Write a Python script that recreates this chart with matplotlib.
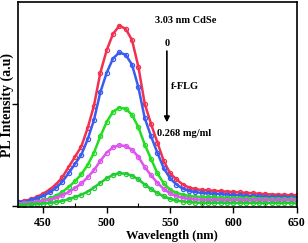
import matplotlib
matplotlib.use('Agg')
import matplotlib.pyplot as plt
from matplotlib.ticker import MultipleLocator

wavelength = list(range(430, 651, 5))

red = [0.02, 0.025, 0.032, 0.045, 0.06, 0.08, 0.105, 0.14, 0.19, 0.24,
       0.29, 0.38, 0.49, 0.65, 0.76, 0.84, 0.88, 0.865, 0.81, 0.68,
       0.50, 0.40, 0.31, 0.22, 0.16, 0.13, 0.105, 0.09, 0.082, 0.078,
       0.076, 0.074, 0.072, 0.07, 0.068, 0.066, 0.064, 0.062, 0.06, 0.058,
       0.056, 0.055, 0.054, 0.053, 0.052]
blue = [0.018, 0.022, 0.028, 0.038, 0.05, 0.066, 0.088, 0.118, 0.16, 0.205,
        0.25, 0.325, 0.42, 0.555, 0.65, 0.72, 0.75, 0.738, 0.69, 0.58,
        0.43, 0.34, 0.26, 0.185, 0.135, 0.105, 0.085, 0.074, 0.068, 0.064,
        0.062, 0.06, 0.058, 0.056, 0.054, 0.052, 0.05, 0.048, 0.047, 0.046,
        0.045, 0.044, 0.043, 0.042, 0.041]
green1 = [0.012, 0.014, 0.017, 0.022, 0.028, 0.037, 0.05, 0.068, 0.093, 0.12,
          0.155, 0.2, 0.26, 0.34, 0.41, 0.46, 0.48, 0.475, 0.445, 0.385,
          0.3, 0.23, 0.16, 0.11, 0.08, 0.064, 0.055, 0.049, 0.046, 0.044,
          0.043, 0.042, 0.041, 0.04, 0.039, 0.038, 0.037, 0.037, 0.036, 0.036,
          0.035, 0.035, 0.034, 0.034, 0.034]
magenta = [0.012, 0.014, 0.016, 0.02, 0.025, 0.031, 0.04, 0.052, 0.068, 0.087,
           0.11, 0.14, 0.175, 0.22, 0.26, 0.287, 0.296, 0.293, 0.275, 0.24,
           0.19, 0.15, 0.113, 0.083, 0.062, 0.048, 0.04, 0.035, 0.032, 0.031,
           0.03, 0.03, 0.029, 0.029, 0.029, 0.029, 0.028, 0.028, 0.028, 0.028,
           0.028, 0.028, 0.028, 0.028, 0.028]
green2 = [0.006, 0.007, 0.008, 0.01, 0.012, 0.015, 0.019, 0.025, 0.033, 0.043,
          0.055, 0.07, 0.09, 0.113, 0.135, 0.152, 0.16, 0.158, 0.148, 0.13,
          0.105, 0.083, 0.063, 0.047, 0.035, 0.027, 0.022, 0.019, 0.017, 0.016,
          0.016, 0.016, 0.016, 0.015, 0.015, 0.015, 0.015, 0.015, 0.015, 0.015,
          0.015, 0.015, 0.015, 0.015, 0.015]

series = [red, blue, green1, magenta, green2]
colors = ['#f2314e', '#3a5cf0', '#22dd22', '#dd55ee', '#22cc33']

serif = ['Liberation Serif', 'DejaVu Serif']

fig = plt.figure(figsize=(3.08, 2.43), dpi=100)
ax = fig.add_axes([0.058, 0.148, 0.906, 0.843])

for ys, c in zip(series, colors):
    ax.plot(wavelength, ys, color=c, linewidth=1.8, marker='o', markersize=3,
            markerfacecolor='none', markeredgewidth=0.9)

ax.set_xlim(430, 650)
ax.set_ylim(-0.005, 0.995)
ax.set_xticks([450, 500, 550, 600, 650])
ax.xaxis.set_minor_locator(MultipleLocator(25))
ax.set_yticks([0, 0.5])
ax.set_yticklabels([])
ax.tick_params(axis='both', which='major', direction='out', length=4, width=1)
ax.tick_params(axis='x', which='minor', direction='in', length=3, width=0.8)
for lbl in ax.get_xticklabels():
    lbl.set_fontfamily(serif)
    lbl.set_fontweight('bold')
    lbl.set_fontsize(8.5)
ax.tick_params(axis='x', pad=3.5)
for s in ax.spines.values():
    s.set_linewidth(1.2)

ax.set_xlabel('Wavelength (nm)', family=serif, fontweight='bold', fontsize=9, labelpad=0)
ax.xaxis.set_label_coords(0.552, -0.112)
ax.set_ylabel('PL Intensity (a.u)', family=serif, fontweight='bold', fontsize=10)
ax.yaxis.set_label_coords(-0.014, 0.5)

ax.text(0.602, 0.912, '3.03 nm CdSe', transform=ax.transAxes, family=serif,
        fontweight='bold', fontsize=7.5, ha='center', va='center')
ax.text(0.534, 0.80, '0', transform=ax.transAxes, family=serif,
        fontweight='bold', fontsize=7.5, ha='center', va='center')
ax.annotate('', xy=(0.534, 0.40), xytext=(0.534, 0.775), xycoords='axes fraction',
            arrowprops=dict(arrowstyle='-|>', color='black', lw=1.2, mutation_scale=8))
ax.text(0.548, 0.59, 'f-FLG', transform=ax.transAxes, family=serif,
        fontweight='bold', fontsize=7.5, ha='left', va='center')
ax.text(0.50, 0.36, '0.268 mg/ml', transform=ax.transAxes, family=serif,
        fontweight='bold', fontsize=7.5, ha='left', va='center')

fig.savefig('out.png', dpi=100)
